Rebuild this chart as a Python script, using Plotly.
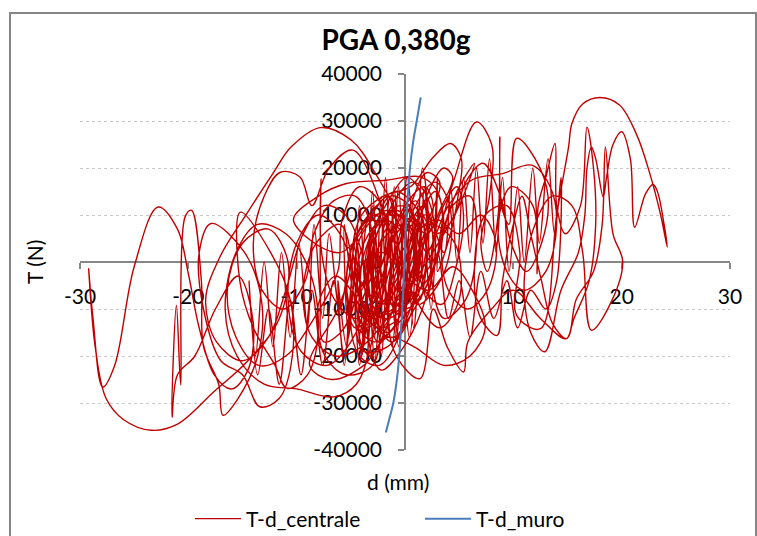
import plotly.graph_objects as go

# ---------------- data ----------------
# T-d_centrale : displacement d (mm) and shear T (kN, converted to N below)
d_centrale = [
    0, 1.2, 0.4, -0.8, -1.5, -0.6, 0.8, 1.8, 1.0, -0.5,
    -2.0, -2.8, -1.6, 0.2, 1.5, 2.6, 1.8, 0.0, -1.8, -3.2,
    -2.5, -0.8, 0.6, 2.2, 3.2, 2.0, 0.5, -1.2, -3.0, -4.2,
    -3.2, -1.4, 0.0, 1.4, 2.8, 3.6, 2.4, 0.6, -1.6, -3.8,
    -4.6, -3.6, -1.8, 0.2, 1.6, 2.0, 0.8, -1.0, -2.6, -3.0,
    -2.0, -1.0, -2.9, -5.0, -7.8, -10.5, -12.2, -14.6, -17.1, -18.4,
    -17.4, -15.0, -12.6, -11.0, -9.4, -7.5, -5.5, -4.0, -3.6, -5.0,
    -7.2, -9.6, -10.8, -10.0, -8.0, -6.0, -4.8, -5.6, -7.5, -7.8,
    -7.75, -7.7, -6.5, -4.5, -2.6, -1.5, -2.4, -4.2, -5.8, -6.2,
    -8.4, -11.0, -13.5, -15.6, -16.4, -15.0, -12.6, -10.8, -11.6, -14.5,
    -17.6, -21.0, -23.4, -26.0, -27.6, -28.6, -29.2, -28.8, -27.9, -26.8,
    -25.0, -22.8, -21.0, -20.0, -19.0, -17.6, -16.0, -14.5, -14.0, -15.4,
    -17.5, -19.4, -21.0, -21.5, -21.1, -20.7, -20.3, -19.7, -18.8, -18.6,
    -17.2, -16.8, -15.4, -13.6, -13.2, -14.8, -17.9, -19.0, -18.6, -17.0,
    -15.0, -13.4, -11.6, -10.4, -10.6, -12.4, -15.2, -15.25, -14.0, -12.0,
    -10.9, -9.0, -8.0, -8.8, -11.0, -13.6, -15.6, -16.6, -15.5, -13.0,
    -10.0, -6.6, -4.5, -3.4, -4.5, -6.4, -8.0, -7.4, -5.4, -3.0,
    -2.0, -0.5, -1.6, -4.8, -7.0, -8.6, -9.7, -11.5, -13.0, -14.0,
    -13.2, -11.2, -9.2, -8.4, -6.6, -4.6, -3.2, -3.0, -4.0, -2.2,
    -0.4, 1.0, 0.4, -1.4, -2.6, -3.4, -2.8, -1.2, 0.4, 1.2,
    0.2, -1.6, -3.8, -5.0, -4.2, -2.4, -0.6, 0.2, -0.8, -2.8,
    -4.4, -5.4, -4.6, -2.6, -1.2, 0.6, 1.8, 2.6, 1.8, 0.0,
    -1.8, -2.2, -1.0, 0.8, 2.2, 2.8, 1.6, -0.4, -2.2, -3.4,
    -2.6, -0.8, 1.0, 1.4, 0.2, -1.6, -3.6, -4.8, -4.0, -2.0,
    0.5, 2.6, 4.2, 5.2, 4.9, 4.2, 3.0, 3.4, 4.6, 6.6,
    8.0, 7.8, 7.0, 7.6, 8.6, 8.75, 8.9, 9.6, 10.3, 12.0,
    13.2, 12.6, 11.2, 9.8, 8.8, 7.2, 5.6, 4.4, 2.8, 1.2,
    2.0, 4.0, 6.2, 9.0, 11.7, 13.4, 14.0, 13.0, 11.0, 9.4,
    8.6, 9.8, 11.8, 12.2, 12.3, 13.0, 13.85, 14.0, 14.8, 16.2,
    16.8, 17.4, 17.6, 17.0, 15.6, 14.9, 13.6, 12.6, 11.6, 10.8,
    10.0, 9.0, 8.5, 7.0, 6.4, 7.4, 9.4, 10.6, 10.3, 12.5,
    14.0, 15.1, 15.4, 16.4, 18.0, 19.8, 21.4, 22.6, 23.6, 24.2,
    23.9, 23.3, 22.9, 22.2, 21.2, 20.8, 20.0, 19.2, 18.6, 18.3,
    17.6, 17.2, 16.8, 16.6, 16.0, 14.4, 12.9, 11.6, 11.0, 12.0,
    13.6, 15.4, 16.4, 17.2, 18.8, 20.1, 19.2, 18.5, 18.2, 17.4,
    15.8, 14.9, 12.5, 10.0, 8.0, 5.8, 5.4, 3.9, 2.6, 1.4,
    -0.8, -1.6, 0.2, 2.4, 4.6, 5.0, 3.2, 1.0, -0.5, -1.5,
    -6.0, -10.3, -8.0, -5.4, -1.7, 1.4, 3.0, 3.4, 2.0, 0.0,
    -3.0, -4.4, -3.8, -2.0, -0.2, 0.4, -0.6, -2.6, -4.0, -4.6,
    -3.4, -1.6, 0.2, 0.8, -0.2, -2.0, -3.6, -3.2, -1.4, 0.0,
    -0.6, -2.2, -3.2, -2.4, -0.8, 0.6, 0.6, -0.8, -2.6, -3.0,
    -2.0, -0.4, 1.0, 1.6, 0.6, -1.4, -3.4, -4.8, -4.4, -2.6,
    -0.8, 1.2, 2.0, 1.2, -0.6, -2.8, -4.6, -5.4, -4.6, -2.8,
    0.4, 2.0, 3.4, 4.4, 3.6, 2.0, 1.0, 1.8, 3.4, 4.6,
    5.4, 4.8, 3.2, 2.4, 3.6, 5.6, 6.6, 6.0, 4.4, 3.0,
    1.0, 0.0, 1.2, 2.8, 4.0, 4.2, 3.0, 1.2, 0.2, 1.4,
    3.0, 5.0, 7.0, 8.4, 7.6, 5.8, 4.0, 3.4, 4.6, 6.4,
    5.0, 2.0, -1.0, -4.0, -6.4, -8.6, -9.4, -8.2, -6.0, -5.0,
    -6.2, -8.8, -6.8, -3.8, -1.6, 0.8, 3.6, 6.0, 7.4, 6.2,
    4.4, 2.2, 0.0, -2.0, -3.8, -4.6, -3.6, -1.8, -0.6, 0.0,
    -4.0, -3.4, -2.8, -2.2, -1.6, -1.0, -0.4, 0.2, -0.6, -1.4,
    -2.2, -3.0, -3.8, -4.4, -5.2, -5.6, -4.8, -4.2, -3.6, -3.0,
    -2.4, -1.8, -1.2, -0.6, 0.0, 0.6, 1.2, 1.8, 2.4, 3.0,
    2.4, 1.6, 0.8, 0.0, -0.8, -1.6, -2.4, -3.2, -4.0, -4.8,
    -5.6, -6.2, -5.4, -4.6, -3.8, -3.0, -2.2, -1.4, -0.6, 0.2,
    1.0, 1.6, 2.2, 1.4, 0.6, -0.2, -1.0, -1.8, -2.6, -3.4,
    -2.0, 0.0, 2.0, 3.6, 4.2, 4.8, 5.4, 6.0, 6.6, 7.2,
    7.8, 8.4, 9.0, 9.6, 10.4, 11.0, 11.8, 12.4, 13.2, 13.8,
    14.4, 14.0, 13.0, 11.6, 10.4, 9.4, 8.2, 7.0, 6.0, 5.0,
    4.0, 3.0, 2.0, 1.0, 0.0, -1.0, -2.0, -3.0, -4.0, -4.8,
    -6.0, -7.0, -7.6, -8.4, -9.0, -9.8, -10.6, -11.4, -12.2, -13.0,
    -13.8, -14.4, -13.6, -12.6, -11.6, -10.6, -9.6, -8.6, -7.6, -6.6,
    -5.6, -4.8, -4.2, -3.4, -2.8, -2.0, -1.2, -0.4, 0.4, 1.0,
]
T_centrale_kN = [
    0, 7, 11, 3, -7, -11, -4, 6, 13, 9,
    -4, -12, -15, -8, 2, 12, 16, 12, 2, -10,
    -17, -13, -2, 9, 17, 19, 12, -1, -9, -16,
    -20, -12, 0, 10, 15, 8, -3, -11, -18, -19,
    -10, 3, 12, 18, 14, 4, -8, -16, -14, -4,
    6, 10, 19.5, 26, 28.6, 24.5, 18.8, 10.3, 1.0, -8,
    -17, -21, -16, -6, 6, 12, 10, 2, -8, -17,
    -22, -19, -8, 4, 10, 6, -4, -14, -17, -6,
    17.7, 2, -8, -12, -6, 4, 13, 16, 9, -2,
    -12, -20, -22, -16, -6, 4, 7, 0, -12, -21,
    -27.5, -34.5, -35.8, -33.5, -29, -18, -1.4, -12, -26.6, -22,
    -1, 11.7, 7, -2.5, -14, -24, -27, -23, -13, -3,
    -10, -20, -24, -33, -9.2, -26.2, 9.6, 11, -3.9, -18,
    -26, -32.6, -29, -20, -9, 2, 8.2, 2, -10, -21,
    -24, -30.8, -29, -20, -8, 2, 10.6, -4, -14, -22,
    -26.9, -24, -14, -2, 6, 8, 2, -10, -20, -26,
    -27, -28.7, -26, -18, -8, -3, -9, -20, -24, -22,
    -12, -2, 8, 23.8, 20, 12, 18.1, 19.1, 14, 4,
    -6, -10, -4, 6, 13, 14, 8, -2, -10, -14,
    -6, 4, 12, 14, 8, -2, -12, -17, -12, 0,
    8, 6, -4, -12, -20, -22, -16, -6, 4, 10,
    6, -4, -14, -10, 0, 9, 12, 4, -6, -10,
    -6, 4, 13, 17, 13, 2, -10, -19, -23, -16,
    -4, 6, 10, 2, -6, -9, -6, 2, 10, 14,
    16, 22.3, 25.2, 22, 14, 6, -2, 8, 18, 29.8,
    25, 14, 4, -2, 10, 26.6, 12, 8, 26.3, 22,
    14, 4, -2, 4, 14, 21, 17, 9, 6, 12,
    2, 12, 17.5, 18.8, 20.6, 16, 8, -2, -6, -2,
    8, 16, 12, -2.5, 12, 18, 25.2, 12, 6, 12,
    28.7, 20, 8, -4, -12, -16.3, -13, -4, 6, 14,
    8, -4, -15.6, -12, -2, 10, 12, 2, -11.3, -14.2,
    10, 24.5, 29.4, 33.6, 35.0, 33.4, 27, 18.8, 10, 3.2,
    8.2, 15, 16.5, 14.5, 7.4, 22, 27.7, 25, 18, 13.8,
    22, 24.5, 20, 10, 2, -6, -19.1, -15, -4, 8,
    14, 12, 2, -14.5, -9.6, 0, 6, 24.5, 8, -2,
    -8, -16.3, -12, -6, -10, -17, -23.4, -18.1, -10, -24.8,
    -20, -8, 4, 8, 4, -8, -14, -8, 2, 14,
    2, 8.9, 14, 16.7, 17.4, 18.1, 15, 6, -4, -8,
    -12, -6, 4, 9, 6, -4, -12, -14, -8, 1,
    8, 11, 8, -2, -10, -12, -5, 5, 10, 5,
    -5, -9, -2, 7, 11, 7, -3, -9, -7, 1,
    9, 12, 9, 0, -8, -11, -10, -3, 6, 12,
    15, 11, 2, -7, -13, -17, -13, -4, 5, 10,
    9, 6, 12, 18, 20, 14, 4, -6, -9, -2,
    10, 16, 10, -2, -12, -8, 4, 14, 12, 2,
    -4, 4, 13, 17, 13, 3, -5, -9, -2, 7,
    9, 6, 10, 4, -6, -10, -6, 4, 14, 21,
    12, 0, -10, -18, -20, -16, -6, 4, 8, 0,
    -10, -22, -25, -22, -16, -18, -22, -20, -14, -6,
    -1, -6, -3, 2, 0, -8, -14, -10, -1, 0,
    -14, 10, -16, 14, -12, 16, -10, 12, -18, 8,
    -20, 6, -18, 4, -16, 8, -6, 12, -8, 15,
    -6, 18, -4, 16, -6, 14, -4, 16, -2, 18,
    -10, 10, -14, 8, -16, 6, -14, 2, -20, -2,
    -22, -4, -18, 6, -10, 12, -8, 14, -2, 18,
    2, 20, 6, -8, 6, -12, 2, -16, -2, -20,
    -6, 6, 10, 2, 16, 0, 18, 2, 20, 4,
    22, 2, 18, -2, 16, 0, 20, 4, 22, 6,
    18, -4, -10, -6, -14, -4, -12, -2, -16, -4,
    -12, 2, -8, 6, -4, 8, -4, 6, -6, 4,
    -10, 6, -12, 8, -14, 4, -16, 2, -18, 0,
    -20, -4, -24, -10, -26, -8, -24, -6, -22, -4,
    -20, -6, -22, -4, -21, -2, -18, 0, -16, 2,
]
T_centrale = [v * 1000 for v in T_centrale_kN]

# T-d_muro
d_muro = [-1.77, -1.4, -1.08, -0.75, -0.53, -0.25, -0.06, 0.15, 0.46, 0.75, 1.08, 1.45]
T_muro = [-36300, -33000, -30000, -25000, -20000, -10000, 0, 10000, 20000, 25500, 30000, 35000]

# axis ticks
x_ticks = [-30, -20, -10, 0, 10, 20, 30]
x_tick_labels = ["-30", "-20", "-10", "0", "10", "20", "30"]
y_ticks = [-40000, -30000, -20000, -10000, 0, 10000, 20000, 30000, 40000]
y_tick_labels = ["-40000", "-30000", "-20000", "-10000", "0", "10000", "20000", "30000", "40000"]

FONT = "Lato"
AXIS_GREY = "#868686"

fig = go.Figure()
fig.add_trace(go.Scatter(
    x=d_centrale, y=T_centrale, mode="lines", name="T-d_centrale",
    line=dict(color="#C00000", width=1.4, shape="spline", smoothing=1.0),
))
fig.add_trace(go.Scatter(
    x=d_muro, y=T_muro, mode="lines", name="T-d_muro",
    line=dict(color="#4A7EBB", width=2, shape="spline", smoothing=1.0),
))

fig.update_layout(
    width=757, height=536,
    margin=dict(l=80, r=27, t=74, b=86, autoexpand=False),
    paper_bgcolor="white", plot_bgcolor="white",
    font=dict(family=FONT, size=21, color="black"),
    title=dict(text="<b>PGA 0,380g</b>", x=396 / 757, xanchor="center",
               y=1 - 40 / 536, yanchor="middle",
               font=dict(family=FONT, size=28, color="black")),
    showlegend=True,
    legend=dict(orientation="h", x=(190 - 80) / 650, xanchor="left",
                yref="container", y=(536 - 519) / 536, yanchor="middle",
                itemwidth=46, entrywidth=169, entrywidthmode="pixels",
                font=dict(family=FONT, size=21, color="black"), bgcolor="rgba(0,0,0,0)"),
    xaxis=dict(range=[-30, 30], tickvals=x_ticks, ticktext=x_tick_labels,
               anchor="free", position=0.5, showline=True, linecolor=AXIS_GREY, linewidth=1.5,
               ticks="outside", ticklen=6, tickcolor=AXIS_GREY, tickwidth=1.5,
               showgrid=False, zeroline=False, layer="below traces",
               ticklabelstandoff=10, fixedrange=True),
    yaxis=dict(range=[-40000, 40000], tickvals=y_ticks, ticktext=y_tick_labels,
               anchor="free", position=0.5, showline=True, linecolor=AXIS_GREY, linewidth=1.5,
               ticks="outside", ticklen=6, tickcolor=AXIS_GREY, tickwidth=1.5,
               showgrid=True, gridcolor="#C8C8C8", griddash="dot", gridwidth=1,
               zeroline=False, layer="below traces", ticklabelstandoff=12, fixedrange=True),
    annotations=[
        dict(text="d (mm)", xref="paper", yref="paper", x=(398 - 80) / 650, y=(450 - 481) / 376,
             xanchor="center", yanchor="middle", showarrow=False,
             font=dict(family=FONT, size=21, color="black")),
        dict(text="T (N)", xref="paper", yref="paper", x=(34 - 80) / 650, y=0.5,
             xanchor="center", yanchor="middle", showarrow=False, textangle=-90,
             font=dict(family=FONT, size=21, color="black")),
    ],
    shapes=[
        dict(type="rect", xref="paper", yref="paper",
             x0=(10 - 80) / 650, x1=(756 - 80) / 650,
             y0=(450 - 545) / 376, y1=(450 - 13) / 376,
             line=dict(color=AXIS_GREY, width=2), fillcolor="rgba(0,0,0,0)", layer="below"),
    ],
)

fig.write_html("out.html")
